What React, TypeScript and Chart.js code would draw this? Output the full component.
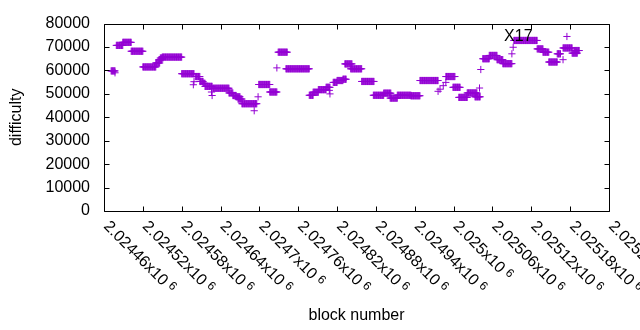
import React, { useEffect, useRef } from "react";
import { Chart, registerables } from "chart.js";

Chart.register(...registerables);

// ---- axes ----
const xMin = 2024460;
const xMax = 2025240;
const xTickValues = [
  2024460, 2024520, 2024580, 2024640, 2024700, 2024760, 2024820,
  2024880, 2024940, 2025000, 2025060, 2025120, 2025180, 2025240,
];
const yMin = 0;
const yMax = 80000;
const yStep = 10000;
const xTitle = "block number";
const yTitle = "difficulty";

// ---- data: stretches of blocks with the same difficulty ----
const runStart = [
  2024471, 2024479, 2024489, 2024502, 2024520, 2024540, 2024545, 2024547, 2024550, 2024580,
  2024601, 2024608, 2024613, 2024616, 2024628, 2024653, 2024659, 2024664, 2024667, 2024673,
  2024699, 2024716, 2024729, 2024741, 2024777, 2024783, 2024791, 2024803, 2024814, 2024820,
  2024829, 2024832, 2024841, 2024858, 2024876, 2024892, 2024902, 2024913, 2024934, 2024948,
  2024988, 2024999, 2025008, 2025021, 2025033, 2025045, 2025055, 2025067, 2025076, 2025093,
  2025129, 2025138, 2025147, 2025160, 2025169, 2025183, 2025187,
];
const runEnd = [
  2024477, 2024489, 2024502, 2024520, 2024540, 2024546, 2024549, 2024551, 2024580, 2024599,
  2024608, 2024613, 2024616, 2024627, 2024653, 2024659, 2024664, 2024670, 2024673, 2024696,
  2024716, 2024727, 2024743, 2024777, 2024783, 2024791, 2024803, 2024809, 2024820, 2024829,
  2024834, 2024843, 2024858, 2024877, 2024892, 2024903, 2024913, 2024934, 2024948, 2024976,
  2025002, 2025010, 2025021, 2025036, 2025041, 2025055, 2025067, 2025076, 2025090, 2025129,
  2025138, 2025147, 2025160, 2025165, 2025183, 2025191, 2025194,
];
const runDifficulty = [
  59800, 70700, 72000, 68200, 61500, 63200, 64600, 65300, 65700, 58600,
  57400, 55300, 54500, 53200, 52400, 50400, 49300, 48750, 47800, 45800,
  54000, 50800, 67800, 60700, 49400, 50700, 51800, 52800, 54900, 55700,
  56250, 62800, 60700, 55300, 49400, 50300, 48200, 49400, 49200, 55700,
  57400, 52800, 48500, 50400, 48750, 65000, 66400, 64600, 62900, 72800,
  69200, 67800, 63600, 67100, 69600, 67400, 68500,
];

// ---- data: isolated blocks ----
const singleBlock = [
  2024477, 2024598, 2024599, 2024626, 2024627, 2024692, 2024698, 2024727, 2024808, 2024809,
  2024976, 2024979, 2024984, 2024988, 2025040, 2025042, 2025090, 2025092, 2025169, 2025175,
];
const singleDifficulty = [
  59000, 53900, 55200, 50800, 49300, 42800, 48750, 61100, 51500, 50000,
  51100, 52000, 53500, 54900, 52500, 60400, 67100, 69900, 64600, 74500,
];

// ---- label ----
const noteText = "X17";
const noteBlock = 2025100;
const noteDifficulty = 74600;

const PURPLE = "#9400d3";
const FONT = "'Liberation Sans', Arial, sans-serif";

function buildPoints() {
  const pts: { x: number; y: number }[] = [];
  for (let i = 0; i < runStart.length; i++) {
    for (let b = runStart[i]; b <= runEnd[i]; b++) {
      pts.push({ x: b, y: runDifficulty[i] });
    }
  }
  for (let i = 0; i < singleBlock.length; i++) {
    pts.push({ x: singleBlock[i], y: singleDifficulty[i] });
  }
  return pts;
}

function formatX(v: number) {
  return (v / 1e6).toFixed(5).replace(/0+$/, "").replace(/\.$/, "");
}

const framePlugin = {
  id: "gnuframe",
  afterDraw(chart: any) {
    const { ctx, chartArea: a, scales } = chart;
    const xs = scales.x;
    const ys = scales.y;
    ctx.save();
    ctx.strokeStyle = "#000";
    ctx.lineWidth = 1;
    const L = Math.round(a.left) + 0.5;
    const R = Math.round(a.right) + 0.5;
    const T = Math.round(a.top) + 0.5;
    const B = Math.round(a.bottom) + 0.5;
    ctx.beginPath();
    ctx.rect(L, T, R - L, B - T);
    const tl = 5;
    for (const t of xs.ticks) {
      const px = Math.round(xs.getPixelForValue(t.value)) + 0.5;
      ctx.moveTo(px, B);
      ctx.lineTo(px, B - tl);
      ctx.moveTo(px, T);
      ctx.lineTo(px, T + tl);
    }
    for (const t of ys.ticks) {
      const py = Math.round(ys.getPixelForValue(t.value)) + 0.5;
      ctx.moveTo(L, py);
      ctx.lineTo(L + tl, py);
      ctx.moveTo(R, py);
      ctx.lineTo(R - tl, py);
    }
    ctx.stroke();

    // rotated x tick labels
    ctx.fillStyle = "#000";
    for (const t of xs.ticks) {
      const px = xs.getPixelForValue(t.value);
      ctx.save();
      ctx.translate(px + 2, a.bottom + 13);
      ctx.rotate(Math.PI / 4);
      ctx.textAlign = "left";
      ctx.textBaseline = "middle";
      ctx.font = `16px ${FONT}`;
      const main = formatX(t.value) + "x10";
      ctx.fillText(main, 0, 0);
      const w = ctx.measureText(main).width;
      ctx.font = `12px ${FONT}`;
      ctx.fillText("6", w + 4, -3);
      ctx.restore();
    }

    // annotation
    ctx.font = `16px ${FONT}`;
    ctx.textAlign = "center";
    ctx.textBaseline = "middle";
    ctx.fillStyle = "#000";
    ctx.fillText(noteText, xs.getPixelForValue(noteBlock), ys.getPixelForValue(noteDifficulty));
    ctx.restore();
  },
};

export default function App() {
  const ref = useRef<HTMLCanvasElement | null>(null);
  useEffect(() => {
    if (!ref.current) return;
    const chart = new Chart(ref.current, {
      type: "scatter",
      data: {
        datasets: [
          {
            data: buildPoints(),
            pointStyle: "cross",
            pointRadius: 3.6,
            pointBorderWidth: 1,
            borderColor: PURPLE,
            backgroundColor: PURPLE,
            showLine: false,
          },
        ],
      },
      options: {
        animation: false,
        responsive: false,
        devicePixelRatio: 1,
        events: [],
        layout: { padding: { left: 0, top: 19, right: 31, bottom: 0 } },
        plugins: { legend: { display: false }, tooltip: { enabled: false } },
        scales: {
          x: {
            type: "linear",
            min: xMin,
            max: xMax,
            afterBuildTicks: (s: any) => {
              s.ticks = xTickValues.map((v) => ({ value: v }));
            },
            afterFit: (s: any) => {
              s.height = 119;
            },
            ticks: { display: false },
            grid: { display: false, drawTicks: false },
            border: { display: false },
            title: {
              display: true,
              text: xTitle,
              color: "#000",
              font: { family: FONT, size: 16 },
              padding: { top: 0, bottom: 5 },
            },
          },
          y: {
            type: "linear",
            min: yMin,
            max: yMax,
            afterFit: (s: any) => {
              s.width = 104;
            },
            ticks: {
              stepSize: yStep,
              color: "#000",
              padding: 14,
              font: { family: FONT, size: 16 },
              callback: (v: any) => String(v),
            },
            grid: { display: false, drawTicks: false },
            border: { display: false },
            title: {
              display: true,
              text: yTitle,
              color: "#000",
              font: { family: FONT, size: 16 },
              padding: { top: 7, bottom: 0 },
            },
          },
        },
      },
      plugins: [framePlugin],
    });
    return () => chart.destroy();
  }, []);
  return (
    <div style={{ position: "fixed", left: 0, top: 0, width: 640, height: 330, background: "#fff" }}>
      <canvas ref={ref} width={640} height={330} />
    </div>
  );
}
